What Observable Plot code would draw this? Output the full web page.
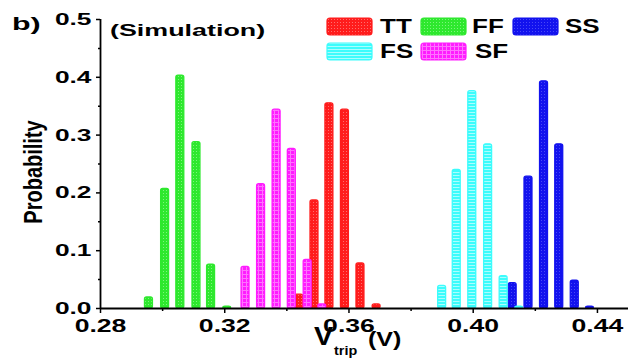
<!DOCTYPE html>
<html><head><meta charset="utf-8">
<script src="https://cdn.jsdelivr.net/npm/d3@7"></script>
<script src="https://cdn.jsdelivr.net/npm/@observablehq/plot@0.6"></script>
<style>body{margin:0;background:#fff} svg{display:block}</style>
</head><body><div id="chart"></div>
<script>
// ---- data ----
const series = ["TT", "FF", "SS", "FS", "SF"];
const ttV = [0.3440, 0.3489, 0.3537, 0.3587, 0.3637, 0.3689];
const ttP = [0.024, 0.187, 0.355, 0.344, 0.078, 0.007];
const ffV = [0.2956, 0.3008, 0.3057, 0.3109, 0.3156, 0.3208];
const ffP = [0.019, 0.207, 0.403, 0.288, 0.076, 0.003];
const ssV = [0.4127, 0.4178, 0.4228, 0.4277, 0.4327, 0.4376];
const ssP = [0.044, 0.228, 0.393, 0.284, 0.048, 0.003];
const fsV = [0.3900, 0.3947, 0.3997, 0.4048, 0.4098, 0.4148];
const fsP = [0.039, 0.240, 0.376, 0.284, 0.056, 0.003];
const sfV = [0.3267, 0.3317, 0.3367, 0.3416, 0.3467, 0.3514];
const sfP = [0.072, 0.215, 0.344, 0.276, 0.084, 0.007];
const xMajor = [0.28, 0.32, 0.36, 0.40, 0.44];
const xMinor = [0.30, 0.34, 0.38, 0.42];
const yMajor = [0, 0.1, 0.2, 0.3, 0.4, 0.5];
const yMinor = [0.05, 0.15, 0.25, 0.35, 0.45];

const colors = {TT: "#ff1c1c", FF: "#2ee82e", SS: "#1212ee", FS: "#3cfcfc", SF: "#ff1cff"};
const vals = {TT: [ttV, ttP], FF: [ffV, ffP], SS: [ssV, ssP], FS: [fsV, fsP], SF: [sfV, sfP]};
const data = series.flatMap(s => vals[s][0].map((v, i) => ({s, v, p: vals[s][1][i]})));
const HW = 0.00128; // half bar width in data units

const FONT = "'Liberation Sans', Arial, Helvetica, sans-serif";

const svg = Plot.plot({
  width: 637, height: 358,
  marginLeft: 100, marginRight: 9, marginTop: 19, marginBottom: 50,
  x: {domain: [0.28, 0.45]},
  y: {domain: [0, 0.5]},
  color: {type: "identity"},
  style: {fontFamily: FONT, fontWeight: "bold", background: "#fff", color: "#000", overflow: "visible"},
  marks: [
    Plot.rect(data, {x1: d => d.v - HW, x2: d => d.v + HW, y1: 0, y2: "p",
      fill: d => `url(#pat-${d.s})`, stroke: d => colors[d.s], strokeWidth: 1.3, rx: 2}),
    Plot.axisX({ticks: xMajor, tickFormat: d3.format(".2f"), tickSize: 5, tickPadding: 5, fontSize: 19, label: null, strokeWidth: 1.5}),
    Plot.axisX({ticks: xMinor, tickFormat: () => "", tickSize: 3, label: null, strokeWidth: 1.5}),
    Plot.axisY({ticks: yMajor, tickFormat: d3.format(".1f"), tickSize: 4, tickPadding: 5, fontSize: 17, label: null, strokeWidth: 1.5}),
    Plot.axisY({ticks: yMinor, tickFormat: () => "", tickSize: 2, label: null, strokeWidth: 1.5}),
    Plot.ruleY([0], {stroke: "#000", strokeWidth: 1.8}),
    Plot.ruleX([0.28], {stroke: "#000", strokeWidth: 1.8})
  ]
});
document.getElementById("chart").append(svg);

const S = d3.select(svg);

// ---- patterns ----
const defs = S.insert("defs", ":first-child");
function pat(id, w, h, base, draw) {
  const p = defs.append("pattern").attr("id", id).attr("patternUnits", "userSpaceOnUse")
    .attr("width", w).attr("height", h);
  p.append("rect").attr("width", w).attr("height", h).attr("fill", base);
  draw(p);
}
pat("pat-TT", 3, 3, colors.TT, p => p.append("rect").attr("x", 1).attr("y", 1).attr("width", 1).attr("height", 1).attr("fill", "#ff6e6e"));
pat("pat-FF", 3, 3, colors.FF, p => p.append("rect").attr("x", 1).attr("y", 1).attr("width", 1).attr("height", 1).attr("fill", "#7cf57c"));
pat("pat-SS", 3, 3, colors.SS, p => p.append("rect").attr("x", 1).attr("y", 1).attr("width", 1).attr("height", 1).attr("fill", "#4848f6"));
pat("pat-FS", 3, 3, colors.FS, p => p.append("rect").attr("x", 0).attr("y", 1).attr("width", 3).attr("height", 1).attr("fill", "#aafefe"));
pat("pat-SF", 4, 4, colors.SF, p => {
  p.append("rect").attr("x", 0).attr("y", 2).attr("width", 4).attr("height", 1).attr("fill", "#ff72ff");
  p.append("rect").attr("x", 2).attr("y", 0).attr("width", 1).attr("height", 4).attr("fill", "#ff72ff");
});

// ---- horizontal stretch of text (reference is stretched) ----
function stretch(sel, sx) {
  sel.each(function () {
    let t = this.getAttribute("transform");
    if (!t) {
      const x = this.getAttribute("x") || 0, y = this.getAttribute("y") || 0;
      this.removeAttribute("x");
      t = `translate(${x},${y})`;
      if (this.getAttribute("y") !== null) this.removeAttribute("y");
    }
    this.setAttribute("transform", `${t} scale(${sx},1)`);
  });
}
stretch(S.selectAll('g[aria-label="x-axis tick label"] text'), 1.4);
stretch(S.selectAll('g[aria-label="y-axis tick label"] text'), 1.55);

function label(txt, x, y, size, sx, anchor = "start", rot = "") {
  return S.append("text").text(txt)
    .attr("transform", `translate(${x},${y}) scale(${sx},1)${rot}`)
    .attr("text-anchor", anchor)
    .attr("font-family", FONT).attr("font-weight", "bold")
    .attr("font-size", size).attr("fill", "#000");
}

// panel label and subtitle
label("b)", 12, 30, 19, 1.6);
label("(Simulation)", 110, 36, 17, 1.58);
// y axis title
label("Probability", 42, 172, 20, 1.3, "middle", " rotate(-90)");
// x axis title: V_trip (V)
label("V", 314, 345, 25, 1.15);
label("trip", 334, 355, 12, 1.2);
label("(V)", 368, 346, 20, 1.25);

// legend
const legendItems = [
  {s: "TT", sx: 327, tx: 380, row: 0},
  {s: "FF", sx: 421, tx: 472, row: 0},
  {s: "SS", sx: 513, tx: 565, row: 0},
  {s: "FS", sx: 327, tx: 380, row: 1},
  {s: "SF", sx: 421, tx: 475, row: 1}
];
const rowY = [18, 43];
legendItems.forEach(it => {
  S.append("rect").attr("x", it.sx).attr("y", rowY[it.row]).attr("width", 45).attr("height", 17)
    .attr("rx", 3).attr("fill", `url(#pat-${it.s})`).attr("stroke", colors[it.s]).attr("stroke-width", 1.2);
  label(it.s, it.tx, rowY[it.row] + 15, 20, 1.3);
});
</script>
</body></html>
